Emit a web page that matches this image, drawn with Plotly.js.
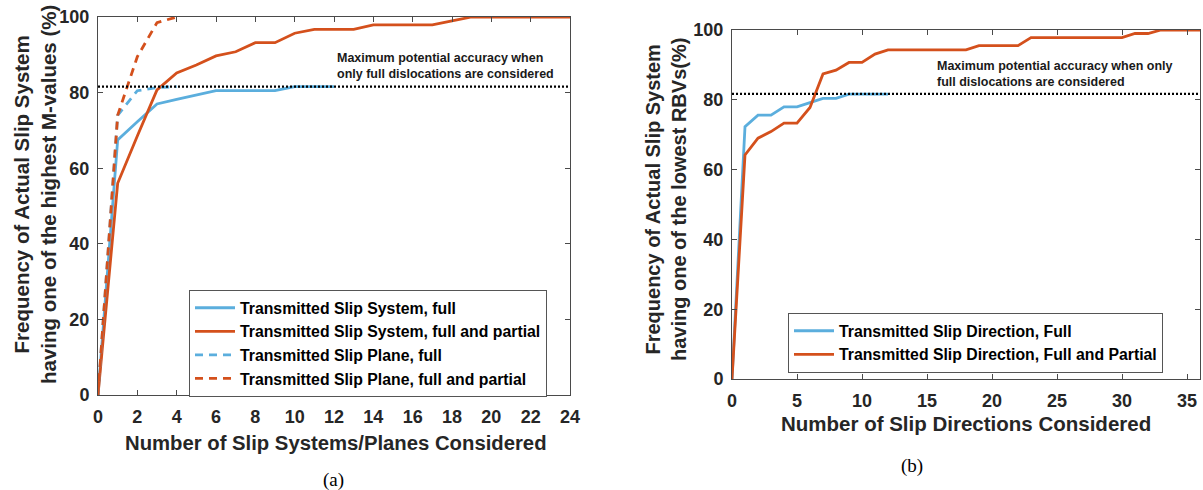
<!DOCTYPE html>
<html>
<head>
<meta charset="utf-8">
<script src="https://cdn.plot.ly/plotly-3.0.1.min.js"></script>
<style>html,body{margin:0;padding:0;background:#fff}#chart{width:1203px;height:490px}</style>
</head>
<body>
<div id="chart"></div>
<script>
// ---- Panel (a) data ----
const sysX = [0,1,2,3,4,5,6,7,8,9,10,11,12,13,14,15,16,17,18,19,20,21,22,23,24];
const sysFullX = [0,1,2,3,4,5,6,7,8,9,10,11,12];
const sysFull = [0,67.5,72.3,77,78.2,79.3,80.5,80.5,80.5,80.5,81.6,81.6,81.6];
const sysFullPartial = [0,56,68.5,80.7,85.2,87.3,89.7,90.8,93.2,93.2,95.7,96.7,96.7,96.7,97.9,97.9,97.9,97.9,99,100,100,100,100,100,100];
const planeX = [0,1,2,3,4];
const planeFull = [0,74,80.5,81.3,81.6];
const planeFullPartial = [0,74,89.5,98.5,100];
const maxA_X = [0,24];
const maxA = [81.6,81.6];

// ---- Panel (b) data ----
const dirFullX = [0,1,2,3,4,5,6,7,8,9,10,11,12];
const dirFull = [0,72.3,75.6,75.6,78,78,79.2,80.4,80.4,81.6,81.6,81.6,81.6];
const dirX = [0,1,2,3,4,5,6,7,8,9,10,11,12,13,14,15,16,17,18,19,20,21,22,23,24,25,26,27,28,29,30,31,32,33,34,35,36];
const dirFullPartial = [0,64.2,69,70.9,73.3,73.3,77.8,87.4,88.5,90.7,90.7,93.1,94.3,94.3,94.3,94.3,94.3,94.3,94.3,95.5,95.5,95.5,95.5,97.8,97.8,97.8,97.8,97.8,97.8,97.8,97.8,99,99,100,100,100,100];
const maxB_X = [0,36];
const maxB = [81.7,81.7];

const xTicksA = [0,2,4,6,8,10,12,14,16,18,20,22,24];
const xTicksB = [0,5,10,15,20,25,30,35];
const yTicks = [0,20,40,60,80,100];

const BLUE = '#5BAEDD';
const RED = '#D4501C';
const FONT = 'Liberation Sans, Arial, Helvetica, sans-serif';

const traces = [
  {x: sysFullX, y: sysFull, mode:'lines', name:'Transmitted Slip System, full', line:{color:BLUE, width:2.8}, xaxis:'x', yaxis:'y', legend:'legend'},
  {x: sysX, y: sysFullPartial, mode:'lines', name:'Transmitted Slip System, full and partial', line:{color:RED, width:2.8}, xaxis:'x', yaxis:'y', legend:'legend'},
  {x: planeX, y: planeFull, mode:'lines', name:'Transmitted Slip Plane, full', line:{color:BLUE, width:2.8, dash:'8px,6px'}, xaxis:'x', yaxis:'y', legend:'legend'},
  {x: planeX, y: planeFullPartial, mode:'lines', name:'Transmitted Slip Plane, full and partial', line:{color:RED, width:2.8, dash:'8px,6px'}, xaxis:'x', yaxis:'y', legend:'legend'},
  {x: maxA_X, y: maxA, mode:'lines', showlegend:false, line:{color:'#000', width:2.2, dash:'2px,2px'}, xaxis:'x', yaxis:'y', hoverinfo:'skip'},
  {x: dirFullX, y: dirFull, mode:'lines', name:'Transmitted Slip Direction, Full', line:{color:BLUE, width:2.8}, xaxis:'x2', yaxis:'y2', legend:'legend2'},
  {x: dirX, y: dirFullPartial, mode:'lines', name:'Transmitted Slip Direction, Full and Partial', line:{color:RED, width:2.8}, xaxis:'x2', yaxis:'y2', legend:'legend2'},
  {x: maxB_X, y: maxB, mode:'lines', showlegend:false, line:{color:'#000', width:2.2, dash:'2px,2px'}, xaxis:'x2', yaxis:'y2', hoverinfo:'skip'}
];

const W = 1203, H = 490;
const px = v => v / W;
const py = v => (H - v) / H;

const axisCommon = {
  showgrid:false, zeroline:false, showline:true, linecolor:'#4a4a4a', linewidth:1,
  mirror:'ticks', ticks:'inside', ticklen:5, tickcolor:'#4a4a4a',
  tickfont:{family:FONT, size:18, color:'#262626', weight:'bold'}, fixedrange:true
};

const layout = {
  width:W, height:H, margin:{l:0,r:0,t:0,b:0},
  paper_bgcolor:'#fff', plot_bgcolor:'#fff',
  showlegend:true,
  xaxis: Object.assign({}, axisCommon, {domain:[px(98), px(570)], range:[0,24], tickvals:xTicksA, anchor:'y', ticklabelstandoff:5}),
  yaxis: Object.assign({}, axisCommon, {domain:[py(395), py(17)], range:[0,100], tickvals:yTicks, anchor:'x', ticklabelstandoff:4}),
  xaxis2: Object.assign({}, axisCommon, {domain:[px(732), px(1200)], range:[0,36], tickvals:xTicksB, anchor:'y2', ticklabelstandoff:5}),
  yaxis2: Object.assign({}, axisCommon, {domain:[py(379), py(30)], range:[0,100], tickvals:yTicks, anchor:'x2', ticklabelstandoff:4}),
  legend: {x:px(189), y:py(290), xanchor:'left', yanchor:'top', bgcolor:'#fff', bordercolor:'#555', borderwidth:1,
    itemwidth:40, font:{family:FONT, size:15.8, color:'#000', weight:'bold'}, tracegroupgap:0},
  legend2: {x:px(788), y:py(313), xanchor:'left', yanchor:'top', bgcolor:'#fff', bordercolor:'#555', borderwidth:1,
    itemwidth:40, font:{family:FONT, size:15.8, color:'#000', weight:'bold'}, tracegroupgap:0},
  annotations: [
    {xref:'paper', yref:'paper', x:px(35), y:py(195), xanchor:'center', yanchor:'middle', textangle:-90, showarrow:false,
     text:'Frequency of Actual Slip System<br>having one of the highest M-values (%)', font:{family:FONT, size:20.5, color:'#262626', weight:'bold'}},
    {xref:'paper', yref:'paper', x:px(666), y:py(200), xanchor:'center', yanchor:'middle', textangle:-90, showarrow:false,
     text:'Frequency of Actual Slip System<br>having one of the lowest RBVs(%)', font:{family:FONT, size:20, color:'#262626', weight:'bold'}},
    {xref:'paper', yref:'paper', x:px(336), y:py(443), xanchor:'center', yanchor:'middle', showarrow:false,
     text:'Number of Slip Systems/Planes Considered', font:{family:FONT, size:20.3, color:'#262626', weight:'bold'}},
    {xref:'paper', yref:'paper', x:px(966), y:py(424), xanchor:'center', yanchor:'middle', showarrow:false,
     text:'Number of Slip Directions Considered', font:{family:FONT, size:20.5, color:'#262626', weight:'bold'}},
    {xref:'paper', yref:'paper', x:px(335), y:py(66), xanchor:'left', yanchor:'middle', align:'left', showarrow:false,
     text:'Maximum potential accuracy when<br>only full dislocations are considered', font:{family:FONT, size:12.5, color:'#1a1a1a', weight:'bold'}},
    {xref:'paper', yref:'paper', x:px(935), y:py(73.5), xanchor:'left', yanchor:'middle', align:'left', showarrow:false,
     text:'Maximum potential accuracy when only<br>full dislocations are considered', font:{family:FONT, size:12.5, color:'#1a1a1a', weight:'bold'}},
    {xref:'paper', yref:'paper', x:px(333), y:py(480), xanchor:'center', yanchor:'middle', showarrow:false,
     text:'(a)', font:{family:'Liberation Serif, Times New Roman, serif', size:19, color:'#000'}},
    {xref:'paper', yref:'paper', x:px(912), y:py(466), xanchor:'center', yanchor:'middle', showarrow:false,
     text:'(b)', font:{family:'Liberation Serif, Times New Roman, serif', size:19, color:'#000'}}
  ]
};

Plotly.newPlot('chart', traces, layout, {displayModeBar:false, staticPlot:true});
</script>
</body>
</html>
